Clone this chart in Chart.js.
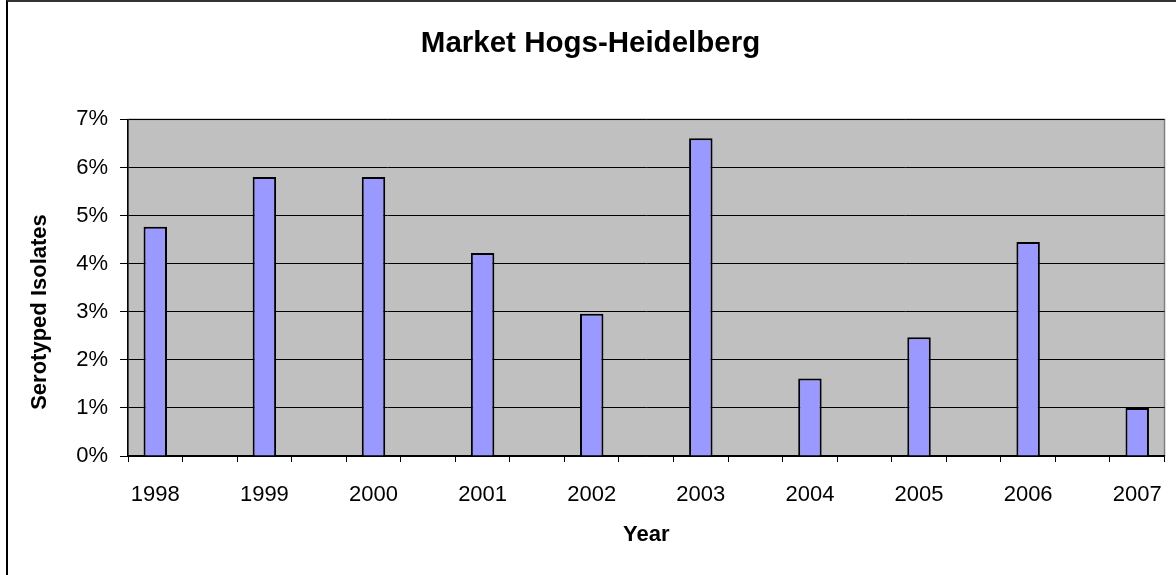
<!DOCTYPE html>
<html>
<head>
<meta charset="utf-8">
<script src="https://cdn.jsdelivr.net/npm/chart.js@4.4.1/dist/chart.umd.min.js"></script>
<style>
  body { margin: 0; background: #fff; }
  #wrap { position: relative; width: 1176px; height: 575px; }
  #frame {
    position: absolute; left: 6px; top: 0; width: 1170px; height: 575px;
    border-left: 2px solid #000; border-top: 2px solid #333;
    box-sizing: border-box; pointer-events: none;
  }
</style>
</head>
<body>
<div id="wrap">
  <canvas id="hogsChart"></canvas>
  <div id="frame"></div>
</div>
<script>
// Market hogs, Heidelberg share of serotyped isolates (%)
const years = ["1998", "1999", "2000", "2001", "2002", "2003", "2004", "2005", "2006", "2007"];
const heidelbergPct = [4.77, 5.8, 5.8, 4.22, 2.96, 6.61, 1.61, 2.47, 4.45, 1.0];
const yTicks = [0, 1, 2, 3, 4, 5, 6, 7];

// the axis has a blank slot between each year, bars sit in the year slots
const labels = [];
const values = [];
years.forEach((y, i) => {
  labels.push(y);
  values.push(heidelbergPct[i]);
  if (i < years.length - 1) {
    labels.push("");
    values.push(null);
  }
});

const FONT = "'Liberation Sans', Arial, sans-serif";

// gray plot background + gray frame
const plotBg = {
  id: "plotBg",
  beforeDraw(chart) {
    const { ctx, chartArea: a } = chart;
    ctx.save();
    ctx.fillStyle = "#C0C0C0";
    ctx.fillRect(a.left, a.top, a.right - a.left, a.bottom - a.top);
    ctx.strokeStyle = "#808080";
    ctx.lineWidth = 1.5;
    ctx.strokeRect(a.left, a.top, a.right - a.left, a.bottom - a.top);
    ctx.restore();
  },
};

// y axis title, centred on the whole chart height like the original
const yTitle = {
  id: "yTitle",
  afterDraw(chart) {
    const ctx = chart.ctx;
    ctx.save();
    ctx.translate(40, 312);
    ctx.rotate(-Math.PI / 2);
    ctx.fillStyle = "#000";
    ctx.font = "bold 22px " + FONT;
    ctx.textAlign = "center";
    ctx.textBaseline = "middle";
    ctx.fillText("Serotyped Isolates", 0, 0);
    ctx.restore();
  },
};

const ctx = document.getElementById("hogsChart").getContext("2d");
new Chart(ctx, {
  type: "bar",
  data: {
    labels: labels,
    datasets: [
      {
        label: "Heidelberg",
        data: values,
        backgroundColor: "#9999FF",
        borderColor: "#000000",
        borderWidth: 2,
        barPercentage: 0.43,
        categoryPercentage: 1,
      },
    ],
  },
  options: {
    responsive: true,
    maintainAspectRatio: false,
    animation: false,
    layout: {
      padding: { left: 16, right: 11, top: 0, bottom: 0 },
    },
    plugins: {
      legend: { display: false },
      tooltip: { enabled: false },
      title: {
        display: true,
        text: "Market Hogs-Heidelberg",
        color: "#000",
        font: { family: FONT, size: 29.5, weight: "bold" },
        padding: { top: 26, bottom: 58 },
      },
    },
    scales: {
      x: {
        grid: {
          offset: true,
          drawOnChartArea: false,
          color: "#000",
          tickLength: 6,
          tickColor: "#000",
        },
        border: { color: "#000", width: 1.5 },
        ticks: {
          autoSkip: false,
          maxRotation: 0,
          color: "#000",
          padding: 14,
          font: { family: FONT, size: 22, lineHeight: 1.75 },
        },
        title: {
          display: true,
          text: "Year",
          color: "#000",
          font: { family: FONT, size: 22, weight: "bold" },
          padding: { top: 0, bottom: 27 },
        },
        afterFit(scale) {
          scale.height = 119;
        },
      },
      y: {
        min: 0,
        max: 7,
        afterBuildTicks(scale) {
          scale.ticks = yTicks.map((v) => ({ value: v }));
        },
        grid: {
          color: "#000",
          lineWidth: 1,
          tickLength: 8,
          tickColor: "#000",
        },
        border: { color: "#000", width: 1.5 },
        ticks: {
          color: "#000",
          padding: 12,
          font: { family: FONT, size: 22 },
          callback: (v) => v + "%",
        },
        afterFit(scale) {
          scale.width = 112;
        },
      },
    },
  },
  plugins: [plotBg, yTitle],
});
</script>
</body>
</html>
